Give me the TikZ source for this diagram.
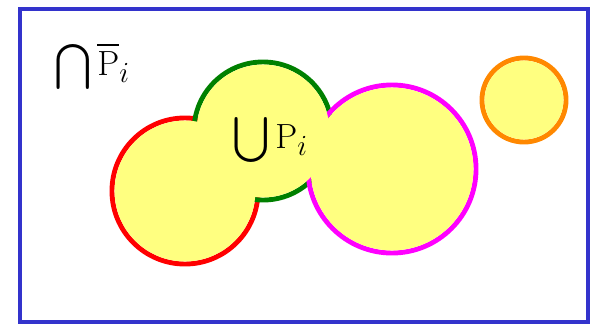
\documentclass[tikz,border=0pt]{standalone}
\usepackage{tikz}
\usepackage{amsmath,amssymb}
\definecolor{frameblue}{RGB}{51,51,204}
\definecolor{setyellow}{RGB}{255,255,128}
\definecolor{setgreen}{RGB}{0,128,0}
\definecolor{setorange}{RGB}{255,136,0}
\definecolor{setmagenta}{RGB}{255,0,255}
\begin{document}
\begin{tikzpicture}[
        frame/.style={draw=frameblue, line width=3.5pt},
        ring/.style={line width=3.5pt},
        inside/.style={fill=setyellow},
        label/.style={text=black, inner sep=0pt, font=\fontsize{32}{36}\selectfont}
    ]
    \useasboundingbox (0,0) rectangle (15,8.1);

    % Outer frame
    \draw[frame] (0.5,0.05) rectangle (14.7,7.875);

    % Coloured rims first
    \draw[ring, red] (4.625,3.325) circle (1.825);
    \draw[ring, setgreen] (6.575,4.825) circle (1.725);
    \draw[ring, setmagenta] (9.8,3.875) circle (2.1);
    \draw[ring, setorange] (13.1,5.6) circle (1.05);

    % Yellow insides cover the rims inside the union
    \fill[inside] (4.625,3.325) circle (1.76);
    \fill[inside] (6.575,4.825) circle (1.66);
    \fill[inside] (9.8,3.875) circle (2.035);
    \fill[inside] (13.1,5.6) circle (0.985);

    % Labels
    \node[label] (cap) at (2.3,6.45) {$\bigcap\overline{\mathrm{P}}_i$};
    \node[label] (cup) at (6.75,4.6) {$\bigcup\mathrm{P}_i$};
\end{tikzpicture}
\end{document}
